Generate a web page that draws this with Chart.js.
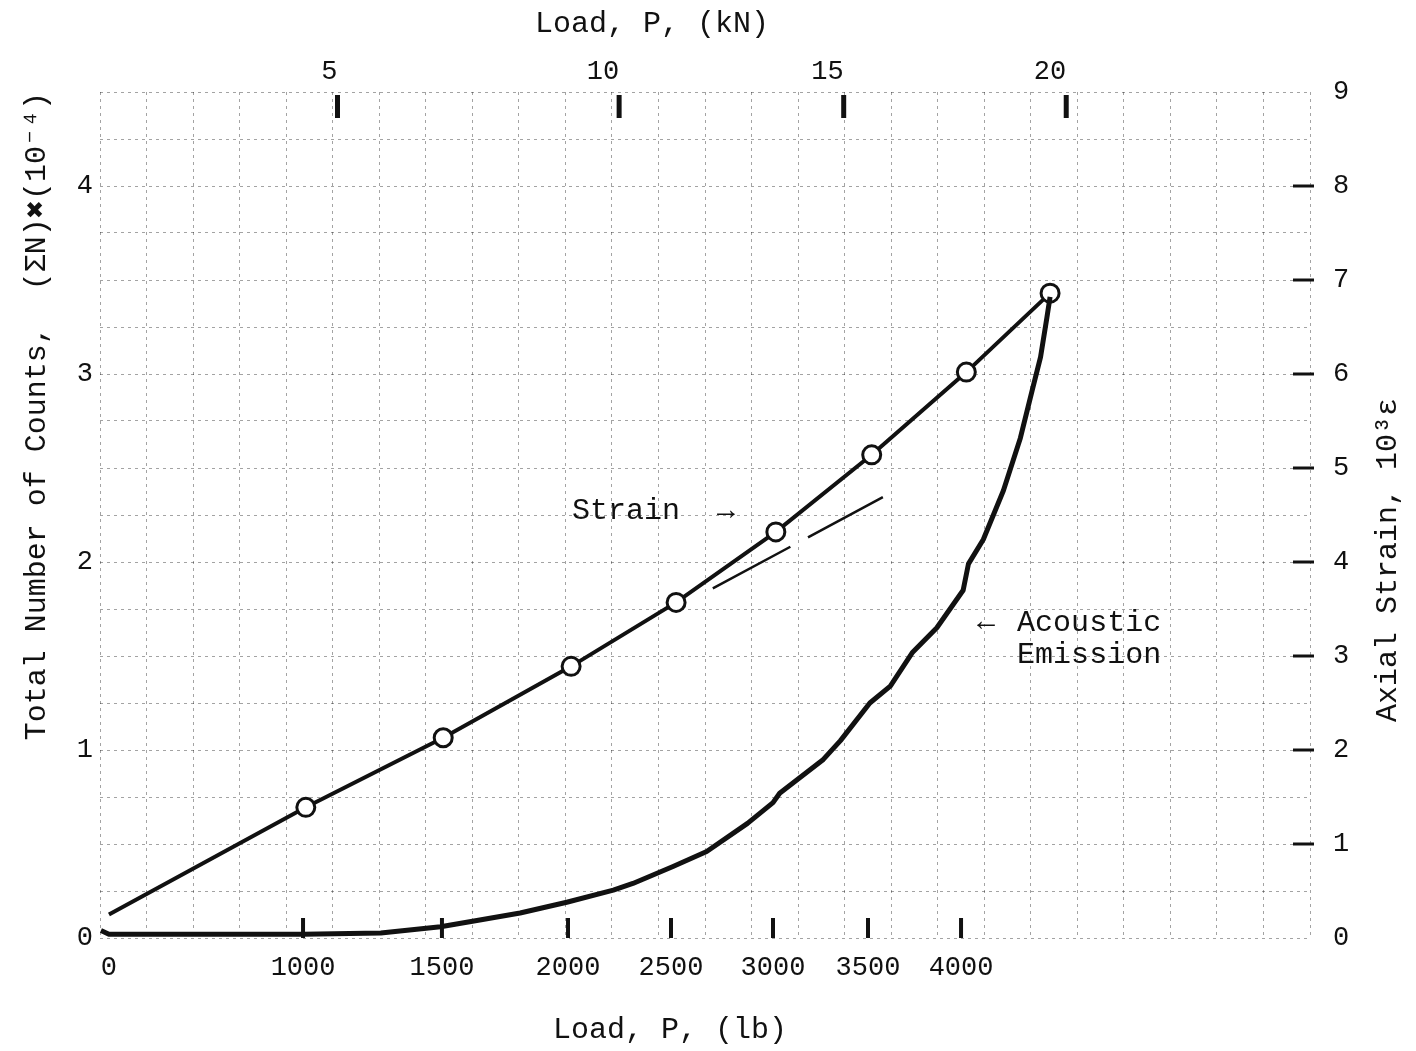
<!DOCTYPE html>
<html>
<head>
<meta charset="utf-8">
<title>Load - Strain - Acoustic Emission</title>
<script src="https://cdn.jsdelivr.net/npm/chart.js@4/dist/chart.umd.min.js"></script>
<style>
  html, body { margin: 0; padding: 0; background: #fff; }
</style>
</head>
<body>
<canvas id="myChart" width="1416" height="1051"></canvas>
<script>
'use strict'
/* 데이터 */
const loadTicksLb = [0, 1000, 1500, 2000, 2500, 3000, 3500, 4000]; // 아래 축 (lb)
const loadTicksKn = [5, 10, 15, 20];                                // 위 축 (kN)
const countTicks = [0, 1, 2, 3, 4];                                 // 왼쪽 축 (x10^4 counts)
const strainTicks = [0, 1, 2, 3, 4, 5, 6, 7, 8, 9];                 // 오른쪽 축 (10^3 e)

// 변형률 (circles)
const strainLoadLb = [0, 1010, 1505, 2015, 2525, 3015, 3520, 4025, 4420];
const strainValues = [0.25, 1.39, 2.13, 2.89, 3.57, 4.32, 5.14, 6.02, 6.86];

// 변형률 접선 (dashed)
const tangentLoadLb = [2705, 3580];
const tangentStrain = [3.72, 4.69];

// 음향 방출 누적 카운트
const aeLoadLb = [-45, 0, 470, 1000, 1280, 1495, 1650, 1810, 1995, 2220, 2315, 2510, 2675, 2875,
  3000, 3035, 3265, 3355, 3510, 3620, 3740, 3870, 4010, 4035, 4105, 4200, 4280, 4335, 4375, 4405, 4420];
const aeCounts = [0.04, 0.02, 0.02, 0.02, 0.027, 0.06, 0.096, 0.133, 0.19, 0.255, 0.29, 0.38, 0.46, 0.61,
  0.72, 0.77, 0.95, 1.05, 1.25, 1.34, 1.52, 1.65, 1.85, 1.99, 2.12, 2.38, 2.66, 2.91, 3.09, 3.30, 3.41];

const LB_PER_KN = 224.809;

/* 축 보정 : 원본 그래프의 load 축은 균등하지 않음 (lb -> 폭 비율) */
const calibLb = [-50, 0, 1000, 1500, 2000, 2500, 3000, 3500, 4000, 4500, 5650];
const calibFrac = [0, 0.0074, 0.1678, 0.2826, 0.3868, 0.4719, 0.5562, 0.6347, 0.7116, 0.7992, 1];

function interp(v, xs, ys) {
  let i = 1;
  while (i < xs.length - 1 && v > xs[i]) i++;
  const t = (v - xs[i - 1]) / (xs[i] - xs[i - 1]);
  return ys[i - 1] + t * (ys[i] - ys[i - 1]);
}

// 비선형 load 축
class WarpScale extends Chart.LinearScale {
  getPixelForValue(value) {
    if (value === null || value === undefined) return NaN;
    return this.getPixelForDecimal(interp(value, calibLb, calibFrac));
  }
  getValueForPixel(pixel) {
    return interp(this.getDecimalForPixel(pixel), calibFrac, calibLb);
  }
}
WarpScale.id = 'warp';
WarpScale.defaults = Chart.LinearScale.defaults;
Chart.register(WarpScale);

const INK = '#111';
const FONT = '"Liberation Mono", "DejaVu Sans Mono", monospace';
const tickFont = { family: FONT, size: 27 };

// 모눈종이 격자
function paperAxis(position, max) {
  return {
    type: 'linear', position: position, min: 0, max: max,
    ticks: { display: false, stepSize: 1 },
    grid: { color: 'rgba(0,0,0,0.36)', lineWidth: 1, drawTicks: false },
    border: { display: false, dash: [3, 4] },
    afterFit: s => { if (s.isHorizontal()) s.height = 0; else s.width = 0; }
  };
}

// 굵은 눈금 표시
const tickMarks = {
  id: 'tickMarks',
  afterDraw(chart) {
    const { ctx, scales, chartArea } = chart;
    ctx.save();
    ctx.strokeStyle = INK;
    ctx.lineCap = 'butt';
    ctx.lineWidth = 4;
    loadTicksLb.filter(v => v > 0).forEach(v => {
      const x = scales.x.getPixelForValue(v);
      ctx.beginPath(); ctx.moveTo(x, chartArea.bottom - 20); ctx.lineTo(x, chartArea.bottom); ctx.stroke();
    });
    ctx.lineWidth = 5;
    loadTicksKn.forEach(k => {
      const x = scales.xTop.getPixelForValue(k * LB_PER_KN);
      ctx.beginPath(); ctx.moveTo(x, chartArea.top + 3); ctx.lineTo(x, chartArea.top + 26); ctx.stroke();
    });
    ctx.lineWidth = 3;
    strainTicks.filter(v => v > 0 && v < 9).forEach(v => {
      const y = scales.y2.getPixelForValue(v);
      ctx.beginPath(); ctx.moveTo(chartArea.right - 17, y); ctx.lineTo(chartArea.right + 4, y); ctx.stroke();
    });
    ctx.restore();
  }
};

// 축 제목과 주석 글자
const paperText = {
  id: 'paperText',
  afterDraw(chart) {
    const { ctx, scales } = chart;
    ctx.save();
    ctx.fillStyle = INK;
    ctx.textBaseline = 'middle';
    ctx.font = `30px ${FONT}`;
    ctx.textAlign = 'center';
    ctx.fillText('Load, P, (kN)', 652, 24);
    ctx.fillText('Load, P, (lb)', 670, 1030);

    ctx.save();
    ctx.translate(1388, 560);
    ctx.rotate(-Math.PI / 2);
    ctx.fillText('Axial Strain, 10³ε', 0, 0);
    ctx.restore();

    // Strain →
    const sx = scales.x.getPixelForValue(2814), sy = scales.y2.getPixelForValue(4.54);
    ctx.textAlign = 'right';
    ctx.fillText('→', sx, sy);
    ctx.fillText('Strain', sx - 55, sy);

    // ← Acoustic Emission
    const ax = scales.x.getPixelForValue(4090), ay = scales.y2.getPixelForValue(3.36);
    ctx.textAlign = 'left';
    ctx.fillText('←', ax - 3, ay);
    ctx.fillText('Acoustic', ax + 37, ay + 1);
    ctx.fillText('Emission', ax + 37, ay + 33);
    ctx.restore();
  }
};

const ctx = document.getElementById('myChart').getContext('2d');
new Chart(ctx, {
  type: 'line',
  data: {
    datasets: [
      {
        label: 'Acoustic Emission',
        xAxisID: 'x',
        yAxisID: 'y',
        data: aeLoadLb.map((x, i) => ({ x: x, y: aeCounts[i] })),
        borderColor: INK,
        borderWidth: 5,
        borderJoinStyle: 'round',
        pointRadius: 0,
        tension: 0
      },
      {
        label: 'Strain tangent',
        xAxisID: 'x',
        yAxisID: 'y2',
        data: tangentLoadLb.map((x, i) => ({ x: x, y: tangentStrain[i] })),
        borderColor: INK,
        borderWidth: 2.5,
        borderDash: [88, 20],
        pointRadius: 0
      },
      {
        label: 'Strain',
        xAxisID: 'x',
        yAxisID: 'y2',
        data: strainLoadLb.map((x, i) => ({ x: x, y: strainValues[i] })),
        borderColor: INK,
        borderWidth: 4,
        pointRadius: strainLoadLb.map((x, i) => (i === 0 ? 0 : 9)),
        pointBackgroundColor: '#fff',
        pointBorderColor: INK,
        pointBorderWidth: 3,
        tension: 0
      }
    ]
  },
  options: {
    responsive: false,
    animation: false,
    devicePixelRatio: 1,
    layout: { padding: 0 },
    plugins: { legend: { display: false }, tooltip: { enabled: false } },
    scales: {
      x: {
        type: 'warp', position: 'bottom', min: -50, max: 5650,
        afterBuildTicks: s => { s.ticks = loadTicksLb.map(v => ({ value: v })); },
        ticks: { callback: v => String(v), font: tickFont, color: INK, padding: 14, autoSkip: false, maxRotation: 0 },
        grid: { display: false, drawTicks: false },
        border: { display: false },
        afterFit: s => { s.height = 113; }
      },
      xTop: {
        type: 'warp', position: 'top', min: -50, max: 5650,
        afterBuildTicks: s => { s.ticks = loadTicksKn.map(k => ({ value: k * LB_PER_KN })); },
        ticks: { callback: v => String(Math.round(v / LB_PER_KN)), font: tickFont, color: INK, padding: 4, align: 'end', autoSkip: false, maxRotation: 0 },
        grid: { display: false, drawTicks: false },
        border: { display: false },
        afterFit: s => { s.height = 92; }
      },
      y: {
        position: 'left', min: 0, max: 4.5,
        afterBuildTicks: s => { s.ticks = countTicks.map(v => ({ value: v })); },
        ticks: { font: tickFont, color: INK, padding: 7 },
        grid: { display: false, drawTicks: false },
        border: { display: false },
        title: {
          display: true, align: 'end', color: INK,
          text: 'Total Number of Counts,  (ΣN)✖(10⁻⁴)',
          font: { family: FONT, size: 30 },
          padding: { top: 19, bottom: 0 }
        },
        afterFit: s => { s.width = 100; }
      },
      y2: {
        position: 'right', min: 0, max: 9,
        afterBuildTicks: s => { s.ticks = strainTicks.map(v => ({ value: v })); },
        ticks: { font: tickFont, color: INK, padding: 23 },
        grid: { display: false, drawTicks: false },
        border: { display: false },
        afterFit: s => { s.width = 106; }
      },
      gx: paperAxis('bottom', 26),
      gy: paperAxis('left', 18)
    }
  },
  plugins: [tickMarks, paperText]
});
</script>
</body>
</html>
